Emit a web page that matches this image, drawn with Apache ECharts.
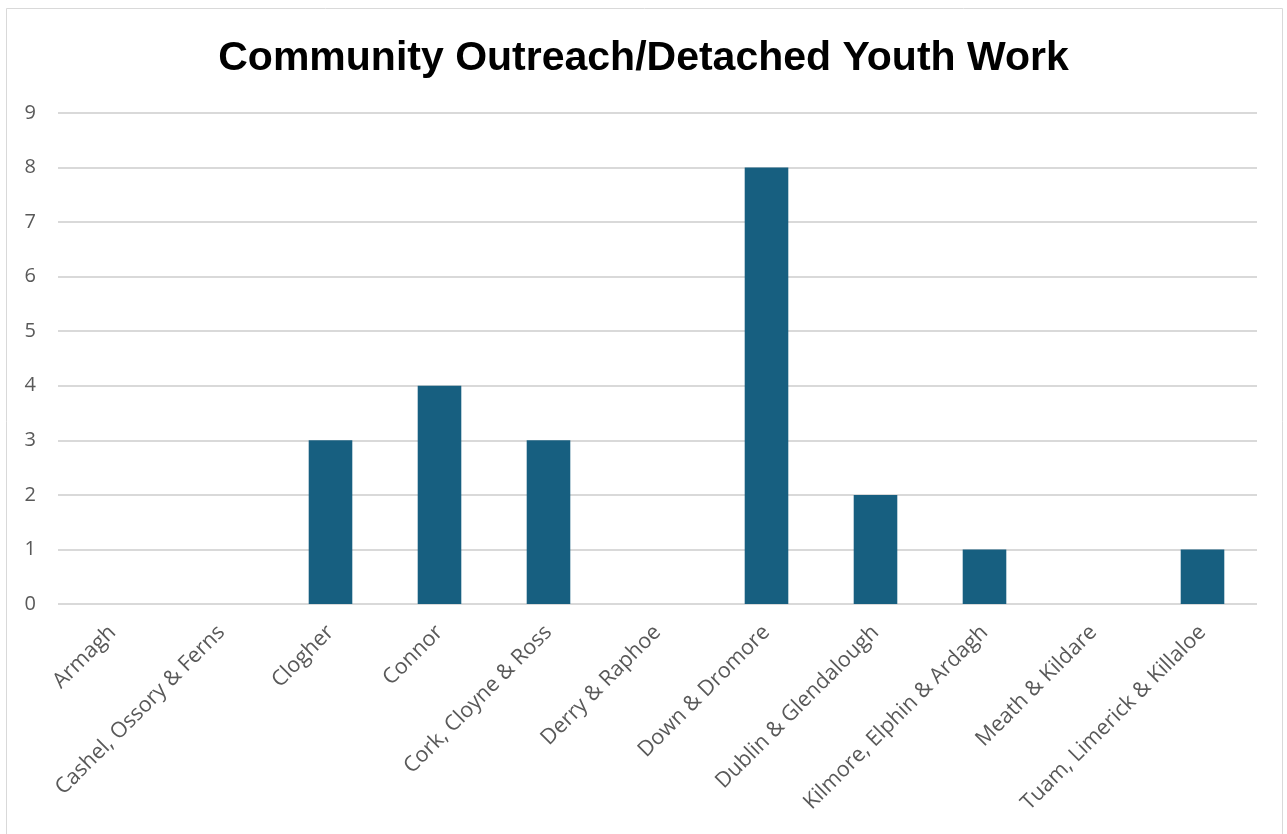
<!DOCTYPE html>
<html><head><meta charset="utf-8">
<script src="https://cdn.jsdelivr.net/npm/echarts@6/dist/echarts.min.js"></script>
<style>html,body{margin:0;padding:0;background:#fff}#c{width:1287px;height:834px}</style>
</head><body><div id="c"></div>
<script>
const categories = ["Armagh","Cashel, Ossory & Ferns","Clogher","Connor","Cork, Cloyne & Ross","Derry & Raphoe","Down & Dromore","Dublin & Glendalough","Kilmore, Elphin & Ardagh","Meath & Kildare","Tuam, Limerick & Killaloe"];
const values = [0,0,3,4,3,0,8,2,1,0,1];
const titleText = "Community Outreach/Detached Youth Work";

const chart = echarts.init(document.getElementById('c'), null, {renderer:'canvas'});
chart.setOption({
  animation:false,
  backgroundColor:'#fff',
  title:{text:titleText,left:'center',top:33,textStyle:{fontFamily:'Liberation Sans, Arial, sans-serif',fontSize:41,fontWeight:'bold',color:'#000'}},
  graphic:[{type:'rect',shape:{x:6.5,y:8.5,width:1276,height:840},style:{fill:'none',stroke:'#d9d9d9',lineWidth:1},silent:true}],
  grid:{left:58,right:30,top:113,bottom:230,containLabel:false},
  xAxis:{type:'category',data:categories,
    axisLine:{show:false},axisTick:{show:false},
    axisLabel:{rotate:45,interval:0,margin:25,color:'#595959',fontSize:21.5,fontFamily:'Open Sans, sans-serif'}},
  yAxis:{type:'value',min:0,max:9,interval:1,
    axisLine:{show:false},axisTick:{show:false},
    splitLine:{lineStyle:{color:'#d9d9d9',width:2}},
    axisLabel:{margin:22,color:'#595959',fontSize:20,fontFamily:'Open Sans, sans-serif'}},
  series:[{type:'bar',data:values,barWidth:'40%',itemStyle:{color:'#175f80'}}]
});
</script></body></html>
